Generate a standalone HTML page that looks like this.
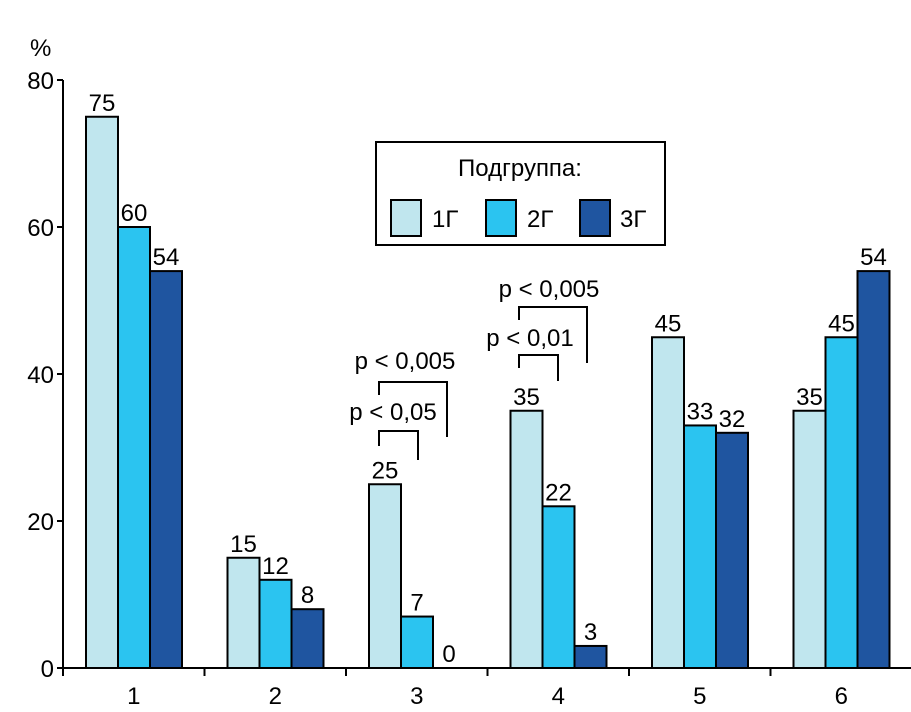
<!DOCTYPE html>
<html><head><meta charset="utf-8"><style>
body{margin:0;background:#fff}
svg text{font-family:"Liberation Sans",Arial,sans-serif;fill:#000}
</style></head><body>
<svg id="chart" width="911" height="707" xmlns="http://www.w3.org/2000/svg">
<g id="axes"></g>
<g id="bars"></g>
<g id="sig">
 <path d="M379,446V431H418V460" fill="none" stroke="#000" stroke-width="2"/>
 <path d="M379,395V382H447V437" fill="none" stroke="#000" stroke-width="2"/>
 <path d="M519,368V355H558V381" fill="none" stroke="#000" stroke-width="2"/>
 <path d="M519,320V307H587V363" fill="none" stroke="#000" stroke-width="2"/>
 <text x="393" y="420" font-size="24" text-anchor="middle">p &lt; 0,05</text>
 <text x="405" y="369" font-size="24" text-anchor="middle">p &lt; 0,005</text>
 <text x="530" y="346" font-size="24" text-anchor="middle">p &lt; 0,01</text>
 <text x="549" y="297" font-size="24" text-anchor="middle">p &lt; 0,005</text>
</g>
<g id="legend">
 <rect x="376" y="142" width="289" height="103" fill="#fff" stroke="#000" stroke-width="2"/>
 <text x="520" y="176" font-size="24" text-anchor="middle">Подгруппа:</text>
 <g><rect x="391" y="200" width="30" height="36" fill="#c0e6ee" stroke="#000" stroke-width="2"/><text x="432" y="227" font-size="24">1Г</text></g>
 <g><rect x="486" y="200" width="30" height="36" fill="#2bc4f0" stroke="#000" stroke-width="2"/><text x="527" y="227" font-size="24">2Г</text></g>
 <g><rect x="580" y="200" width="30" height="36" fill="#1f55a0" stroke="#000" stroke-width="2"/><text x="620" y="227" font-size="24">3Г</text></g>
</g>
</svg>
<script>
const categories=["1","2","3","4","5","6"];
const series1=[75,15,25,35,45,35];
const series2=[60,12,7,22,33,45];
const series3=[54,8,0,3,32,54];
const yTicks=[0,20,40,60,80];
const colors=["#c0e6ee","#2bc4f0","#1f55a0"];
const NS="http://www.w3.org/2000/svg";
const x0=63,y0=668,yTop=80,gw=141.5,bw=32,pad=23;
const ys=v=>y0-(v/80)*(y0-yTop);
function mk(t,a,p){const e=document.createElementNS(NS,t);for(const k in a)e.setAttribute(k,a[k]);p.appendChild(e);return e;}
const ax=document.getElementById('axes'),bars=document.getElementById('bars');
let l=mk('line',{x1:x0,y1:yTop,x2:x0,y2:y0,stroke:'#000','stroke-width':2},ax);


l=mk('line',{x1:x0,y1:y0,x2:911,y2:y0,stroke:'#000','stroke-width':2},ax);


let t=mk('text',{x:30,y:56,'font-size':24},ax);t.textContent='%';


yTicks.forEach(v=>{
 mk('line',{x1:x0-6,y1:ys(v),x2:x0,y2:ys(v),stroke:'#000','stroke-width':2},ax);
 const tt=mk('text',{x:x0-9,y:ys(v)+9,'font-size':24,'text-anchor':'end'},ax);tt.textContent=v;
 
 
});
categories.forEach((c,i)=>{
 const gx=x0+i*gw;
 mk('line',{x1:gx+gw,y1:y0,x2:gx+gw,y2:y0+8,stroke:'#000','stroke-width':2},ax);
 mk('line',{x1:gx,y1:y0,x2:gx,y2:y0+8,stroke:'#000','stroke-width':2},ax);
 const tt=mk('text',{x:gx+gw/2,y:y0+36,'font-size':24,'text-anchor':'middle'},ax);tt.textContent=c;
 
 
 [series1,series2,series3].forEach((s,j)=>{
  const v=s[i],bx=gx+pad+j*bw;
  if(v>0){const r=mk('rect',{x:bx,y:ys(v),width:bw,height:y0-ys(v),fill:colors[j],stroke:'#000','stroke-width':2},bars);
  
  }
  const lb=mk('text',{x:bx+bw/2,y:ys(v)-6,'font-size':24,'text-anchor':'middle'},bars);lb.textContent=v;
  
  
 });
});
</script>
</body></html>
